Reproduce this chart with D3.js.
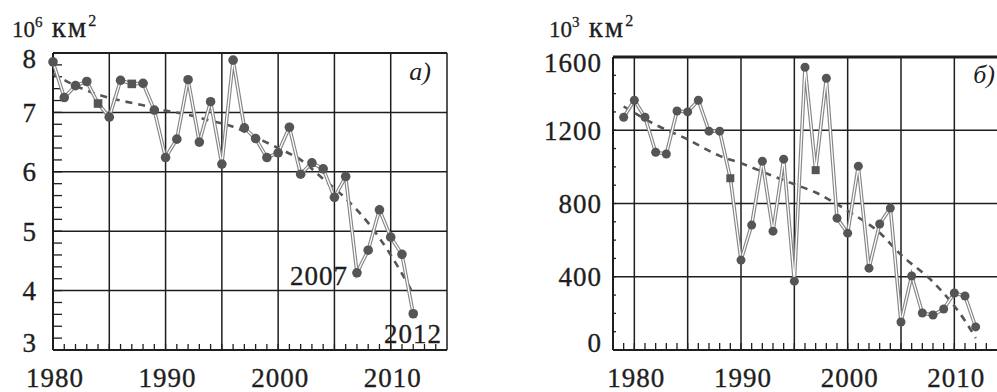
<!DOCTYPE html>
<html>
<head>
<meta charset="utf-8">
<script src="https://cdn.jsdelivr.net/npm/d3@7"></script>
<style>
  body { margin: 0; background: #fff; }
  svg { display: block; }
</style>
</head>
<body>
<svg width="997" height="392"></svg>
<script>
// panel a: sea ice extent, 10^6 km2
const yearsA = d3.range(1980, 2013);
const extentA = [7.85, 7.25, 7.45, 7.52, 7.15, 6.92, 7.54, 7.48, 7.49, 7.04, 6.24, 6.55, 7.55, 6.5, 7.18, 6.13,
  7.88, 6.74, 6.56, 6.24, 6.32, 6.75, 5.96, 6.15, 6.05, 5.57, 5.92, 4.3, 4.68, 5.36, 4.9, 4.61, 3.61];
const squaresA = [1984, 1987];
const trendYearsA = [1980, 1982, 1984, 1986, 1988, 1990, 1992, 1994, 1996, 1998, 2000, 2002, 2004, 2006, 2008, 2010, 2012];
const trendA = [7.65, 7.45, 7.3, 7.2, 7.12, 7.03, 6.96, 6.86, 6.76, 6.58, 6.4, 6.2, 5.88, 5.55, 5.14, 4.6, 3.95];
const yTicksA = [3, 4, 5, 6, 7, 8];
const xLabelsA = [1980, 1990, 2000, 2010];

// panel b: 10^3 km2
const yearsB = d3.range(1979, 2013);
const areaB = [1271, 1364, 1271, 1080, 1070, 1305, 1300, 1364, 1195, 1195, 938, 491, 682, 1031, 649, 1042, 376,
  1544, 982, 1484, 720, 638, 1004, 447, 688, 775, 153, 404, 202, 191, 224, 311, 295, 126];
const squaresB = [1989, 1997];
const trendYearsB = [1979, 1982, 1985, 1988, 1990, 1993, 1995, 1997, 2000, 2003, 2005, 2008, 2010, 2011, 2012];
const trendB = [1330, 1230, 1150, 1060, 1020, 950, 905, 860, 760, 640, 520, 372, 240, 160, 65];
const yTicksB = [0, 400, 800, 1200, 1600];
const xLabelsB = [1980, 1990, 2000, 2010];

const svg = d3.select("svg");
const ink = "#1e1e1e";
const serif = "'Liberation Serif', Tinos, 'Times New Roman', serif";

// heavy serif numerals like the scanned figure
function numText(sel, size) {
    return sel.attr("font-family", serif).attr("font-size", size)
        .attr("letter-spacing", 1).attr("fill", ink)
        .attr("stroke", ink).attr("stroke-width", 0.35);
}

function panel(cfg) {
    const g = svg.append("g");
    const x = d3.scaleLinear().domain(cfg.xDomain).range([cfg.left, cfg.right]);
    const y = d3.scaleLinear().domain(cfg.yDomain).range([cfg.bottom, cfg.top]);

    // grid
    g.selectAll(".vgrid").data(cfg.xGrid).join("line")
        .attr("x1", d => x(d)).attr("x2", d => x(d))
        .attr("y1", cfg.top).attr("y2", cfg.bottom)
        .attr("stroke", ink).attr("stroke-width", 1.5);
    g.selectAll(".hgrid").data(cfg.yGrid).join("line")
        .attr("x1", cfg.left).attr("x2", cfg.gridRight)
        .attr("y1", d => y(d)).attr("y2", d => y(d))
        .attr("stroke", ink).attr("stroke-width", 1.5);

    // minor ticks
    g.selectAll(".xt").data(cfg.xMinor).join("line")
        .attr("x1", d => x(d)).attr("x2", d => x(d))
        .attr("y1", cfg.bottom).attr("y2", cfg.bottom - cfg.xTickLen)
        .attr("stroke", ink).attr("stroke-width", 1.3);
    g.selectAll(".yt").data(cfg.yMinor).join("line")
        .attr("x1", cfg.left).attr("x2", cfg.left + cfg.yTickLen)
        .attr("y1", d => y(d)).attr("y2", d => y(d))
        .attr("stroke", ink).attr("stroke-width", 1.3);

    // frame
    g.append("line").attr("x1", cfg.left).attr("x2", cfg.left).attr("y1", cfg.top).attr("y2", cfg.bottom)
        .attr("stroke", ink).attr("stroke-width", 2);
    g.append("line").attr("x1", cfg.left).attr("x2", cfg.gridRight).attr("y1", cfg.bottom).attr("y2", cfg.bottom)
        .attr("stroke", ink).attr("stroke-width", 2);
    g.append("line").attr("x1", cfg.left).attr("x2", cfg.gridRight).attr("y1", cfg.top).attr("y2", cfg.top)
        .attr("stroke", ink).attr("stroke-width", cfg.topWidth);
    if (cfg.rightBorder) {
        g.append("line").attr("x1", cfg.right).attr("x2", cfg.right).attr("y1", cfg.top).attr("y2", cfg.bottom)
            .attr("stroke", ink).attr("stroke-width", 1.5);
    }

    // trend
    const trendLine = d3.line().x(d => x(d[0])).y(d => y(d[1])).curve(d3.curveMonotoneX);
    g.append("path")
        .attr("d", trendLine(d3.zip(cfg.trendYears, cfg.trend)))
        .attr("fill", "none").attr("stroke", "#555").attr("stroke-width", 2.6)
        .attr("stroke-dasharray", "7,6");

    // data line (hollow double stroke)
    const pts = d3.zip(cfg.years, cfg.values);
    const dataLine = d3.line().x(d => x(d[0])).y(d => y(d[1]));
    g.append("path").attr("d", dataLine(pts))
        .attr("fill", "none").attr("stroke", "#858585").attr("stroke-width", 3.6);
    g.append("path").attr("d", dataLine(pts))
        .attr("fill", "none").attr("stroke", "#fff").attr("stroke-width", 1.3);

    // markers
    g.selectAll(".dot").data(pts.filter(d => !cfg.squares.includes(d[0]))).join("circle")
        .attr("cx", d => x(d[0])).attr("cy", d => y(d[1])).attr("r", cfg.r)
        .attr("fill", "#555");
    g.selectAll(".sq").data(pts.filter(d => cfg.squares.includes(d[0]))).join("rect")
        .attr("x", d => x(d[0]) - cfg.r + 0.5).attr("y", d => y(d[1]) - cfg.r + 0.5)
        .attr("width", cfg.r * 2 - 1).attr("height", cfg.r * 2 - 1)
        .attr("fill", "#555");

    // labels (end labels nudged inward as in the source)
    const nudge = d => d === cfg.yDomain[1] ? 6 : d === cfg.yDomain[0] ? -7 : 0;
    numText(g.selectAll(".yl").data(cfg.yTicks).join("text"), 27)
        .attr("x", cfg.yLabelX).attr("y", d => y(d) + nudge(d))
        .attr("dy", "0.35em").attr("text-anchor", "end")
        .text(d => d);
    numText(g.selectAll(".xl").data(cfg.xLabels).join("text"), 27)
        .attr("x", d => x(d) + 2).attr("y", 387)
        .attr("text-anchor", "middle")
        .text(d => d);

    const unit = g.append("text").attr("x", cfg.unitX).attr("y", 37)
        .attr("font-family", serif).attr("font-size", 23).attr("fill", ink)
        .attr("stroke", ink).attr("stroke-width", 0.3);
    unit.append("tspan").text("10");
    unit.append("tspan").attr("font-size", 15).attr("dy", -10).text(cfg.power);
    unit.append("tspan").attr("dy", 10).attr("font-size", 29).attr("letter-spacing", 2).text(" км");
    unit.append("tspan").attr("font-size", 16).attr("dy", -11).text("2");

    g.append("text").attr("x", cfg.tagX).attr("y", cfg.tagY)
        .attr("text-anchor", "end").attr("font-size", 26).attr("font-style", "italic")
        .attr("font-family", serif).attr("fill", ink).text(cfg.tag);

    return { g, x, y };
}

const a = panel({
    xDomain: [1980, 2015], yDomain: [3, 8],
    left: 53, right: 447, top: 53, bottom: 350, gridRight: 447,
    xGrid: [1985, 1990, 1995, 2000, 2005, 2010], yGrid: [4, 5, 6, 7],
    xMinor: d3.range(1981, 2015), yMinor: d3.range(3.2, 8, 0.2),
    xTickLen: 6, yTickLen: 9, topWidth: 2, rightBorder: true,
    years: yearsA, values: extentA, squares: squaresA,
    trendYears: trendYearsA, trend: trendA, r: 4.8,
    yTicks: yTicksA, xLabels: xLabelsA, yLabelX: 37,
    unitX: 12, power: "6", tag: "а)", tagX: 431, tagY: 80
});
numText(a.g.append("text"), 27).attr("x", 348).attr("y", 285).attr("text-anchor", "end").text("2007");
numText(a.g.append("text"), 27).attr("x", 442).attr("y", 343).attr("text-anchor", "end").text("2012");

panel({
    xDomain: [1978, 2014], yDomain: [0, 1600],
    left: 613, right: 997, top: 57, bottom: 350, gridRight: 997,
    xGrid: [1980, 1985, 1990, 1995, 2000, 2005, 2010], yGrid: [400, 800, 1200],
    xMinor: d3.range(1979, 2014), yMinor: d3.range(100, 1600, 100),
    xTickLen: 7, yTickLen: 3, topWidth: 3, rightBorder: false,
    years: yearsB, values: areaB, squares: squaresB,
    trendYears: trendYearsB, trend: trendB, r: 4.5,
    yTicks: yTicksB, xLabels: xLabelsB, yLabelX: 602,
    unitX: 549, power: "3", tag: "б)", tagX: 995, tagY: 83
});
</script>
</body>
</html>
